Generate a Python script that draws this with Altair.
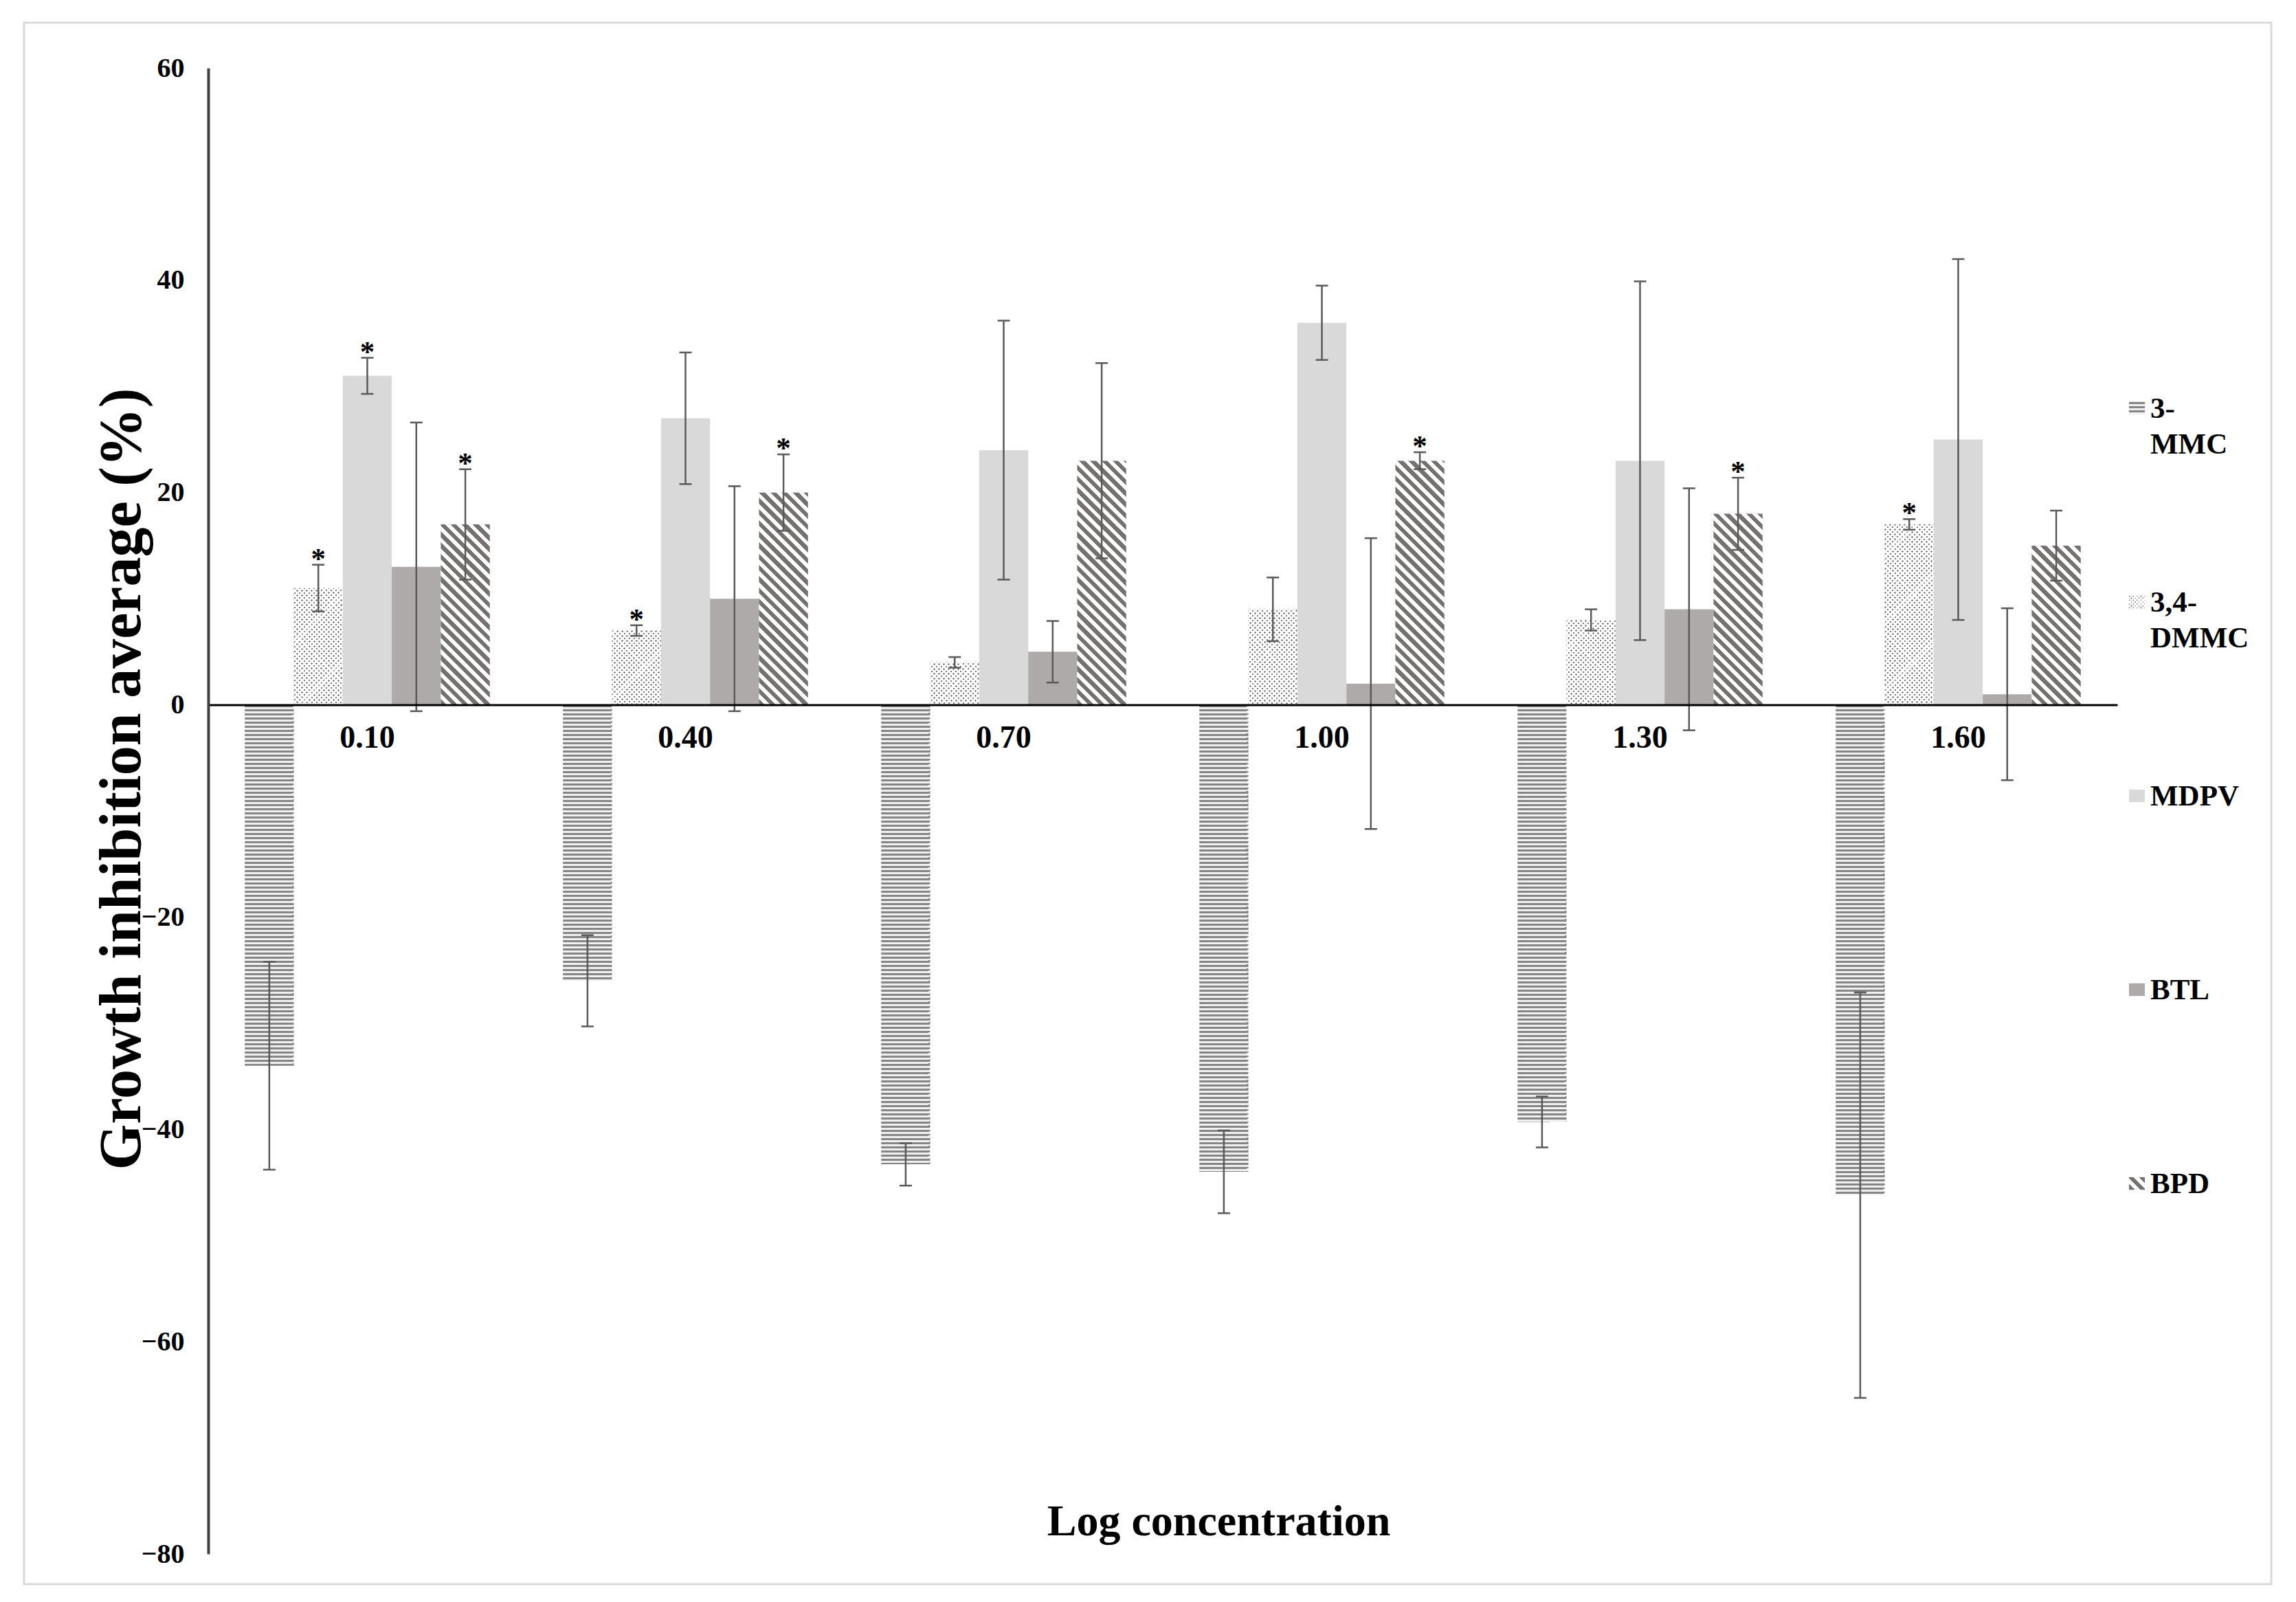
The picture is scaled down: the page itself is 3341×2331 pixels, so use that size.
import math
import altair as alt

# ---------------- data ----------------
conc = ["0.10", "0.40", "0.70", "1.00", "1.30", "1.60"]
series = ["3-MMC", "3,4-DMMC", "MDPV", "BTL", "BPD"]
legend_labels = ["3-\nMMC", "3,4-\nDMMC", "MDPV", "BTL", "BPD"]

mean_3mmc = [-34.0, -26.0, -43.3, -44.0, -39.3, -46.2]
mean_dmmc = [11.0, 7.0, 4.0, 9.0, 8.0, 17.0]
mean_mdpv = [31.0, 27.0, 24.0, 36.0, 23.0, 25.0]
mean_btl = [13.0, 10.0, 5.0, 2.0, 9.0, 1.0]
mean_bpd = [17.0, 20.0, 23.0, 23.0, 18.0, 15.0]

err_3mmc = [9.8, 4.3, 2.0, 3.9, 2.4, 19.1]
err_dmmc = [2.2, 0.5, 0.5, 3.0, 1.0, 0.5]
err_mdpv = [1.7, 6.2, 12.2, 3.5, 16.9, 17.0]
err_btl = [13.6, 10.6, 2.9, 13.7, 11.4, 8.1]
err_bpd = [5.2, 3.6, 9.2, 0.8, 3.4, 3.3]

star_3mmc = [0, 0, 0, 0, 0, 0]
star_dmmc = [1, 1, 0, 0, 0, 1]
star_mdpv = [1, 0, 0, 0, 0, 0]
star_btl = [0, 0, 0, 0, 0, 0]
star_bpd = [1, 1, 0, 1, 1, 0]

means = [mean_3mmc, mean_dmmc, mean_mdpv, mean_btl, mean_bpd]
errs = [err_3mmc, err_dmmc, err_mdpv, err_btl, err_bpd]
stars = [star_3mmc, star_dmmc, star_mdpv, star_btl, star_bpd]

# ---------------- layout ----------------
FONT = "Liberation Serif"
W, H = 3270, 2272
X0, X1 = 268, 3046
Y_TOP, Y_BOT = 66, 2228
YMIN, YMAX = -80, 60
PAD_IN, PAD_OUT = 0.23, 0.115
ERR_COLOR = "#595959"

px_unit = (Y_BOT - Y_TOP) / (YMAX - YMIN)
y_zero = Y_BOT - (0 - YMIN) * px_unit
step = (X1 - X0) / (len(conc) - PAD_IN + 2 * PAD_OUT)
bar_w = step * (1 - PAD_IN) / len(series)


def stripe_grad(w, h, nx, ny, period, frac, c_on, c_off):
    """Hard-stop linear gradient giving stripes with a fixed pixel period."""
    n = math.hypot(nx, ny)
    nx, ny = nx / n, ny / n
    ax, ay = nx * w, ny * h
    corners = [(0, 0), (1, 0), (0, 1), (1, 1)]
    sv = [ax * u + ay * v for u, v in corners]
    imin = min(range(4), key=lambda i: sv[i])
    imax = max(range(4), key=lambda i: sv[i])
    L = sv[imax] - sv[imin]
    k = L / (ax * ax + ay * ay)
    u1, v1 = corners[imin]
    u2, v2 = u1 + k * ax, v1 + k * ay
    stops = []
    m = 0
    while m * period < L - 1e-9:
        a = m * period / L
        b = min((m + frac) * period / L, 1.0)
        c = min((m + 1) * period / L, 1.0)
        stops += [
            {"offset": round(a, 5), "color": c_on},
            {"offset": round(b, 5), "color": c_on},
            {"offset": round(b, 5), "color": c_off},
            {"offset": round(c, 5), "color": c_off},
        ]
        m += 1
    return {"gradient": "linear", "x1": round(u1, 6), "y1": round(v1, 6),
            "x2": round(u2, 6), "y2": round(v2, 6), "stops": stops}


def fills(sname, w, h):
    if sname == "3-MMC":
        return stripe_grad(w, h, 1e-3, 1, 6.0, 0.5, "#858585", "#f0f0f0"), None
    if sname == "3,4-DMMC":
        g1 = stripe_grad(w, h, 1, 1, 5.0, 0.42, "#7a7a7a", "#ffffff")
        g2 = stripe_grad(w, h, 1, -1, 5.0, 0.42, "rgba(255,255,255,0)", "#ffffff")
        return g1, g2
    if sname == "MDPV":
        return "#d9d9d9", None
    if sname == "BTL":
        return "#aeaaaa", None
    return stripe_grad(w, h, 1, -1, 11.5, 0.52, "#767171", "#ffffff"), None


rows = []
for si, s in enumerate(series):
    for ci, c in enumerate(conc):
        mval = means[si][ci]
        e = errs[si][ci]
        g1, g2 = fills(s, bar_w, max(abs(mval) * px_unit, 1.0))
        rows.append({"conc": c, "series": s, "mean": mval,
                     "lo": mval - e, "hi": mval + e, "star": stars[si][ci],
                     "grad": g1, "grad2": g2})

leg_rows = []
for si, s in enumerate(series):
    g1, g2 = fills(s, 23, 18.4)
    if s == "3,4-DMMC":
        g1 = stripe_grad(23, 18.4, 1, 1, 4.0, 0.45, "#9a9a9a", "#ffffff")
        g2 = stripe_grad(23, 18.4, 1, -1, 4.0, 0.45, "rgba(255,255,255,0)", "#ffffff")
    leg_rows.append({"series": s, "label": legend_labels[si], "lgrad": g1, "lgrad2": g2})

data = alt.Data(values=rows)
legdata = alt.Data(values=leg_rows)

# ---------------- encodings ----------------
xaxis = alt.Axis(
    title="Log concentration", orient="bottom", offset=-(H - y_zero),
    ticks=False, tickSize=0, grid=False, domainColor="black", domainWidth=3,
    labelFont=FONT, labelFontSize=46, labelFontWeight="bold", labelColor="black",
    labelAngle=0, labelPadding=62, labelBaseline="alphabetic",
    titleFont=FONT, titleFontSize=64, titleFontWeight="bold", titleColor="black",
    titleX=1738, titleY=2200 - y_zero, titleAlign="center",
    titleBaseline="alphabetic", zindex=1,
)
yaxis = alt.Axis(
    title="Growth inhibition average (%)", values=list(range(-80, 61, 20)),
    grid=False, ticks=False, tickSize=0, domainColor="#404040", domainWidth=4,
    labelFont=FONT, labelFontSize=40, labelFontWeight="bold", labelColor="black",
    labelPadding=35, offset=-X0, labelOverlap=False,
    titleFont=FONT, titleFontSize=86, titleFontWeight="bold", titleColor="black",
    titleX=142 - X0, titleY=1100, titleAngle=270, titleAlign="center",
    titleBaseline="middle", zindex=1,
)
xscale = alt.Scale(domain=conc, range=[X0, X1], paddingInner=PAD_IN, paddingOuter=PAD_OUT)
yscale = alt.Scale(domain=[YMIN, YMAX], range=[Y_BOT, Y_TOP], nice=False, zero=False)


def X():
    return alt.X("conc:N", scale=xscale, axis=xaxis)


def XO():
    return alt.XOffset("series:N", scale=alt.Scale(domain=series, paddingInner=0, paddingOuter=0))


def Y(field):
    return alt.Y(field, type="quantitative", scale=yscale, axis=yaxis)


bars = alt.Chart(data).mark_bar(strokeWidth=0).encode(
    x=X(), xOffset=XO(), y=Y("mean"),
    fill=alt.Fill("grad:N", scale=None, legend=None),
)
dots = alt.Chart(data).transform_filter(alt.datum.series == "3,4-DMMC").mark_bar(strokeWidth=0).encode(
    x=X(), xOffset=XO(), y=Y("mean"),
    fill=alt.Fill("grad2:N", scale=None, legend=None),
)
rules = alt.Chart(data).mark_rule(color=ERR_COLOR, strokeWidth=2.5).encode(
    x=X(), xOffset=XO(), y=Y("lo"), y2=alt.Y2("hi"),
)
cap_lo = alt.Chart(data).mark_tick(orient="horizontal", size=18, thickness=2.5,
                                   color=ERR_COLOR, opacity=1).encode(
    x=X(), xOffset=XO(), y=Y("lo"))
cap_hi = alt.Chart(data).mark_tick(orient="horizontal", size=18, thickness=2.5,
                                   color=ERR_COLOR, opacity=1).encode(
    x=X(), xOffset=XO(), y=Y("hi"))
star_txt = alt.Chart(data).transform_filter(alt.datum.star == 1).mark_text(
    text="*", font=FONT, fontSize=43, fontWeight="bold", color="black",
    baseline="alphabetic", dy=5,
).encode(x=X(), xOffset=XO(), y=Y("hi"))

main = alt.layer(bars, dots, rules, cap_lo, cap_hi, star_txt)

# ---------------- legend ----------------
lg_y = alt.Y("series:N", scale=alt.Scale(type="point", domain=series, range=[575, 1703], padding=0),
             axis=None)
swatch = alt.Chart(legdata).mark_point(
    filled=True, shape="M-1,-0.8H1V0.8H-1Z", size=529, opacity=1, strokeWidth=0, yOffset=-14,
).encode(x=alt.value(3074.5), y=lg_y, fill=alt.Fill("lgrad:N", scale=None, legend=None))
swatch2 = alt.Chart(legdata).transform_filter(alt.datum.series == "3,4-DMMC").mark_point(
    filled=True, shape="M-1,-0.8H1V0.8H-1Z", size=529, opacity=1, strokeWidth=0, yOffset=-14,
).encode(x=alt.value(3074.5), y=lg_y, fill=alt.Fill("lgrad2:N", scale=None, legend=None))
leg_text = alt.Chart(legdata).mark_text(
    align="left", baseline="alphabetic", lineBreak="\n", lineHeight=52,
    font=FONT, fontSize=43, fontWeight="bold", color="black",
).encode(x=alt.value(3094), y=lg_y, text="label:N")
legend = alt.layer(swatch, swatch2, leg_text)

chart = alt.layer(main, legend).resolve_scale(y="independent").properties(
    width=W, height=H,
    autosize=alt.AutoSizeParams(type="none"),
    padding={"left": 27, "top": 25, "right": 10, "bottom": 10},
    background="white",
).configure_view(stroke="#d9d9d9", strokeWidth=3)

chart.save("out.html", embed_options={"renderer": "svg", "actions": False})
